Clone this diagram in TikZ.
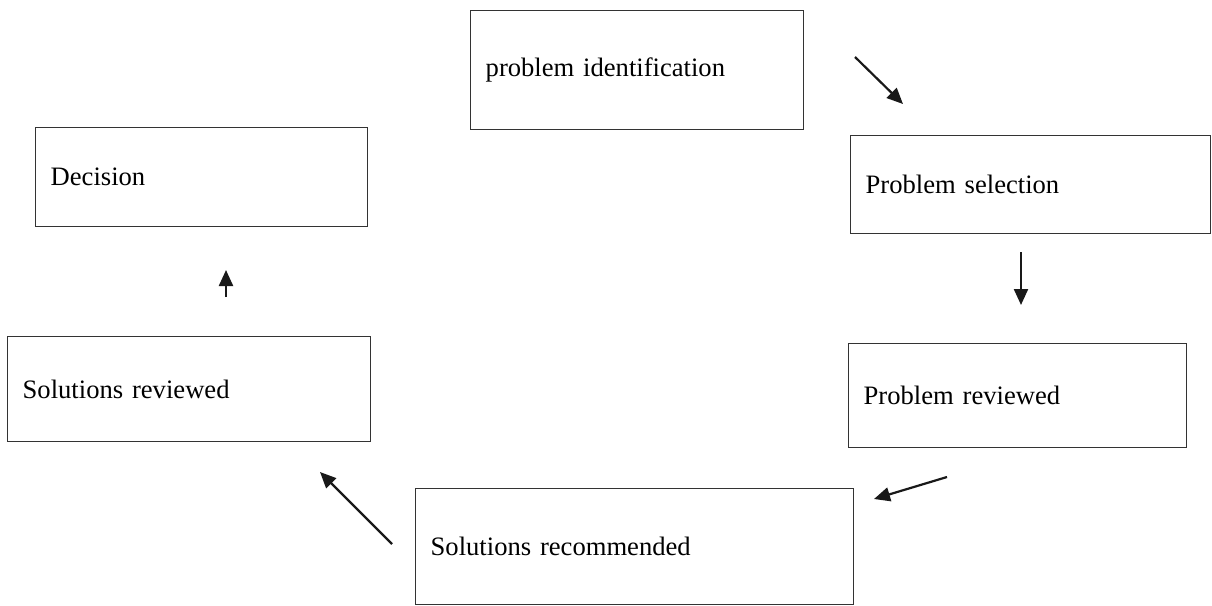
\documentclass[tikz,border=0pt]{standalone}
\usepackage{fontspec}
\setmainfont{Liberation Serif}
\usetikzlibrary{arrows.meta,positioning}

\begin{document}
\begin{tikzpicture}[
    x=0.5pt, y=-0.5pt,
    stage/.style={
        rectangle,
        draw=black!80,
        line width=0.7pt,
        anchor=north west,
        inner xsep=7.5pt,
        inner ysep=0pt,
        align=left,
        font=\fontsize{13.3}{16}\selectfont
    },
    flow/.style={
        draw=black!90,
        line width=1.1pt,
        -{Triangle[length=8pt,width=7pt]}
    }
]
    \useasboundingbox (0,0) rectangle (1212,606);

    % Nodes
    \node [stage, text width=151.5pt, minimum height=59.5pt] (ident) at (470,10) {problem identification};
    \node [stage, text width=165pt, minimum height=49pt] (select) at (850,135) {Problem selection};
    \node [stage, text width=154pt, minimum height=52pt] (review) at (848,343) {Problem reviewed};
    \node [stage, text width=204pt, minimum height=58pt] (recommend) at (415,488) {Solutions recommended};
    \node [stage, text width=166.5pt, minimum height=52.5pt] (solreview) at (7,336) {Solutions reviewed};
    \node [stage, text width=151pt, minimum height=49.5pt] (decision) at (35,127) {Decision};

    % Arrow ends
    \coordinate (ident-out) at (855,57);
    \coordinate (select-in) at (903,104);
    \coordinate (select-out) at (1021,252);
    \coordinate (review-in) at (1021,305);
    \coordinate (review-out) at (947,477);
    \coordinate (recommend-in) at (874,499);
    \coordinate (recommend-out) at (392,544);
    \coordinate (solreview-in) at (320,472);
    \coordinate (solreview-out) at (226,297);
    \coordinate (decision-in) at (226,270);

    % Edges
    \path [flow] (ident-out) -- (select-in);
    \path [flow] (select-out) -- (review-in);
    \path [flow] (review-out) -- (recommend-in);
    \path [flow] (recommend-out) -- (solreview-in);
    \path [flow] (solreview-out) -- (decision-in);

\end{tikzpicture}
\end{document}
